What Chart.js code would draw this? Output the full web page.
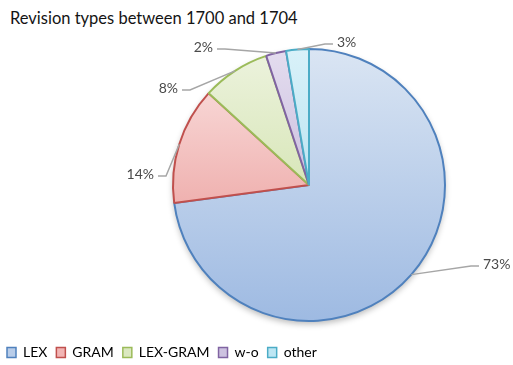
<!DOCTYPE html>
<html>
<head>
<meta charset="utf-8">
<script src="https://cdn.jsdelivr.net/npm/chart.js@4.4.1/dist/chart.umd.min.js"></script>
<style>
  body { margin: 0; background: #fff; }
  .wrap { position: relative; width: 513px; height: 365px; }
  .title {
    position: absolute; left: 10px; top: 8px;
    font: 16.5px Lato, sans-serif; line-height: 20px; color: #141414;
    white-space: nowrap;
  }
  canvas { position: absolute; left: 0; top: 0; }
</style>
</head>
<body>
<div class="wrap">
  <div class="title">Revision types between 1700 and 1704</div>
  <canvas id="chart" width="513" height="365"></canvas>
</div>
<script>
const categories = ["LEX", "GRAM", "LEX-GRAM", "w-o", "other"];
const shares = [72.9, 13.9, 8.1, 2.4, 2.7];

const fillTop = ["#dae5f3", "#fbe4e3", "#edf3de", "#e4ddef", "#d9f1f9"];
const fillBottom = ["#9ebae2", "#e68a88", "#c3da94", "#b3a2cf", "#9fd8ea"];
const fillLegend = ["#b9cde9", "#f2b5b4", "#dbe8c0", "#cdc2e0", "#bde6f3"];
const edges = ["#4f81bd", "#c0504d", "#9bbb59", "#8064a2", "#4bacc6"];

const pieRadius = 136;
const pieCenterX = 309;

// where each percentage label sits, relative to the pie centre
const labelSpots = [
    {dx: 174, dy: 79, side: "left"},
    {dx: -155, dy: -11, side: "right"},
    {dx: -131, dy: -97, side: "right"},
    {dx: -96, dy: -138, side: "right"},
    {dx: 28, dy: -143, side: "left"},
];

const sliceFill = (ctx) => {
    const i = ctx.dataIndex;
    const area = ctx.chart.chartArea;
    if (!area) return fillTop[i];
    const cy = (area.top + area.bottom) / 2;
    const g = ctx.chart.ctx.createLinearGradient(0, cy - pieRadius, 0, cy + pieRadius);
    g.addColorStop(0, fillTop[i]);
    g.addColorStop(1, fillBottom[i]);
    return g;
};

// the pie sits right of the middle, so narrow the chart area from the left
const shiftPie = {
    id: "shiftPie",
    afterLayout(chart) {
        const area = chart.chartArea;
        area.left = 2 * pieCenterX - area.right;
        area.width = area.right - area.left;
    }
};

const pieShadow = {
    id: "pieShadow",
    beforeDatasetsDraw(chart) {
        const arc = chart.getDatasetMeta(0).data[0];
        if (!arc) return;
        const c = chart.ctx;
        c.save();
        c.shadowColor = "rgba(0,0,0,0.28)";
        c.shadowBlur = 6;
        c.shadowOffsetY = 3;
        c.fillStyle = "#fff";
        c.beginPath();
        c.arc(arc.x, arc.y, arc.outerRadius, 0, Math.PI * 2);
        c.fill();
        c.restore();
    }
};

const leaderLabels = {
    id: "leaderLabels",
    afterDatasetsDraw(chart) {
        const c = chart.ctx;
        const arcs = chart.getDatasetMeta(0).data;
        c.save();
        c.font = "14px Lato, sans-serif";
        c.textBaseline = "middle";
        arcs.forEach((arc, i) => {
            const mid = (arc.startAngle + arc.endAngle) / 2;
            const sx = arc.x + Math.cos(mid) * arc.outerRadius;
            const sy = arc.y + Math.sin(mid) * arc.outerRadius;
            const spot = labelSpots[i];
            const tx = arc.x + spot.dx;
            const ty = arc.y + spot.dy;
            const dir = spot.side === "right" ? 1 : -1;

            c.strokeStyle = "#a6a6a6";
            c.lineWidth = 1.5;
            c.beginPath();
            c.moveTo(sx, sy);
            c.lineTo(tx + dir * 12, ty + 2);
            c.lineTo(tx + dir * 4, ty + 2);
            c.stroke();

            c.fillStyle = "#4a4a4a";
            c.textAlign = spot.side;
            c.fillText(Math.round(shares[i]) + "%", tx, ty);
        });
        c.restore();
    }
};

const chart = new Chart(document.getElementById("chart"), {
    type: "pie",
    data: {
        labels: categories,
        datasets: [{
            data: shares,
            backgroundColor: sliceFill,
            borderColor: edges,
            borderWidth: 2,
        }]
    },
    options: {
        responsive: false,
        animation: false,
        radius: pieRadius,
        layout: {
            padding: {left: -2, right: 0, top: 33.5, bottom: -4.5}
        },
        plugins: {
            tooltip: {enabled: false},
            legend: {
                position: "bottom",
                align: "start",
                labels: {
                    boxWidth: 9,
                    boxHeight: 10,
                    padding: 9,
                    color: "#555555",
                    font: {family: "Lato", size: 14},
                    generateLabels: (ch) => categories.map((name, i) => ({
                        text: name,
                        fillStyle: fillLegend[i],
                        strokeStyle: edges[i],
                        lineWidth: 1.5,
                        hidden: false,
                        index: i,
                    })),
                }
            }
        }
    },
    plugins: [shiftPie, pieShadow, leaderLabels]
});
</script>
</body>
</html>
